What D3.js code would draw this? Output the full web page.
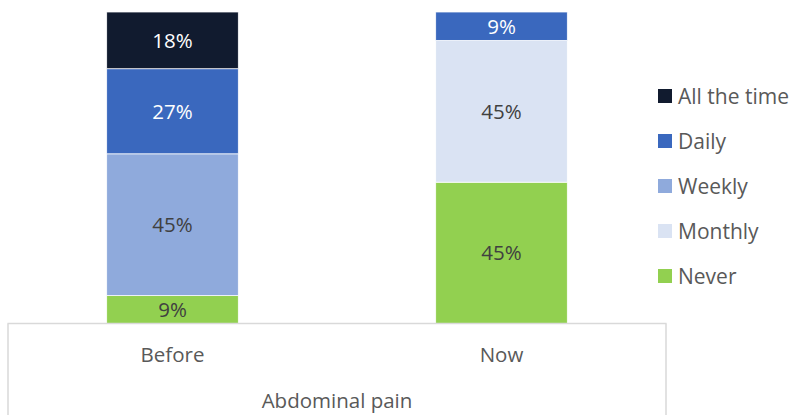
<!DOCTYPE html>
<html>
<head>
<meta charset="utf-8">
<script src="https://cdn.jsdelivr.net/npm/d3@7"></script>
<style>
  html, body { margin: 0; padding: 0; background: #fff; }
  svg { display: block; font-family: "Open Sans", sans-serif; }
</style>
</head>
<body>
<svg id="chart" width="797" height="415"></svg>
<script>
// Frequency of abdominal pain, before vs now (percent of respondents)
const categories = ["Before", "Now"];
const groupLabel = "Abdominal pain";
const seriesNames = ["Never", "Monthly", "Weekly", "Daily", "All the time"];
const neverVals = [9, 45];
const monthlyVals = [0, 45];
const weeklyVals = [45, 0];
const dailyVals = [27, 9];
const allTheTimeVals = [18, 0];
const seriesColors = ["#92d050", "#dae3f3", "#8faadc", "#3a68be", "#111b2f"];
const labelColors = ["#404040", "#404040", "#404040", "#ffffff", "#ffffff"];

const seriesValues = [neverVals, monthlyVals, weeklyVals, dailyVals, allTheTimeVals];

const rows = categories.map((c, i) => {
  const r = { cat: c };
  seriesNames.forEach((s, k) => { r[s] = seriesValues[k][i]; });
  return r;
});

// 100% stacked: normalise each column to its own total
const stacked = d3.stack().keys(seriesNames).offset(d3.stackOffsetExpand)(rows);

const svg = d3.select("#chart");
const plot = { left: 8, right: 666, top: 12, bottom: 324 };

const x = d3.scaleBand().domain(categories).range([plot.left, plot.right]).paddingInner(0.6).paddingOuter(0.3);
const y = d3.scaleLinear().domain([0, 1]).range([plot.bottom, plot.top]);

const layers = svg.append("g").selectAll("g")
  .data(stacked)
  .join("g")
  .attr("fill", (d, i) => seriesColors[i]);

layers.selectAll("rect")
  .data(d => d.map(p => Object.assign(p, { key: d.key })))
  .join("rect")
  .attr("x", d => x(d.data.cat))
  .attr("width", x.bandwidth())
  .attr("y", d => y(d[1]))
  .attr("height", d => y(d[0]) - y(d[1]))
  .attr("stroke", "#fff")
  .attr("stroke-width", 0.75);

// value labels inside each segment
stacked.forEach((layer, k) => {
  svg.append("g").selectAll("text")
    .data(layer.filter(p => p.data[layer.key] > 0))
    .join("text")
    .attr("x", d => x(d.data.cat) + x.bandwidth() / 2)
    .attr("y", d => (y(d[0]) + y(d[1])) / 2)
    .attr("dy", "0.36em")
    .attr("text-anchor", "middle")
    .attr("font-size", 20.5)
    .attr("fill", labelColors[k])
    .text(d => d.data[layer.key] + "%");
});

// category axis drawn as a framed two-level box
const axisColor = "#d9d9d9";
const axisG = svg.append("g").attr("stroke", axisColor).attr("stroke-width", 1.5).attr("fill", "none");
axisG.append("line").attr("x1", plot.left - 0.5).attr("x2", plot.right + 0.5).attr("y1", 323.5).attr("y2", 323.5);
axisG.append("line").attr("x1", plot.left).attr("x2", plot.left).attr("y1", 323.5).attr("y2", 415);
axisG.append("line").attr("x1", plot.right).attr("x2", plot.right).attr("y1", 323.5).attr("y2", 415);

svg.append("g").selectAll("text")
  .data(categories)
  .join("text")
  .attr("x", d => x(d) + x.bandwidth() / 2)
  .attr("y", 355)
  .attr("dy", "0.36em")
  .attr("text-anchor", "middle")
  .attr("font-size", 20.5)
  .attr("fill", "#595959")
  .text(d => d);

svg.append("text")
  .attr("x", (plot.left + plot.right) / 2)
  .attr("y", 401)
  .attr("dy", "0.36em")
  .attr("text-anchor", "middle")
  .attr("font-size", 20.5)
  .attr("fill", "#595959")
  .text(groupLabel);

// legend, top-down from "All the time" to "Never"
const legendOrder = seriesNames.map((s, i) => ({ name: s, color: seriesColors[i] })).reverse();
const legend = svg.append("g").selectAll("g")
  .data(legendOrder)
  .join("g")
  .attr("transform", (d, i) => `translate(658, ${96 + i * 45})`);
legend.append("rect")
  .attr("x", 0).attr("y", -7).attr("width", 14).attr("height", 14)
  .attr("fill", d => d.color);
legend.append("text")
  .attr("x", 20).attr("y", 0).attr("dy", "0.36em")
  .attr("font-size", 21)
  .attr("fill", "#595959")
  .text(d => d.name);
</script>
</body>
</html>
